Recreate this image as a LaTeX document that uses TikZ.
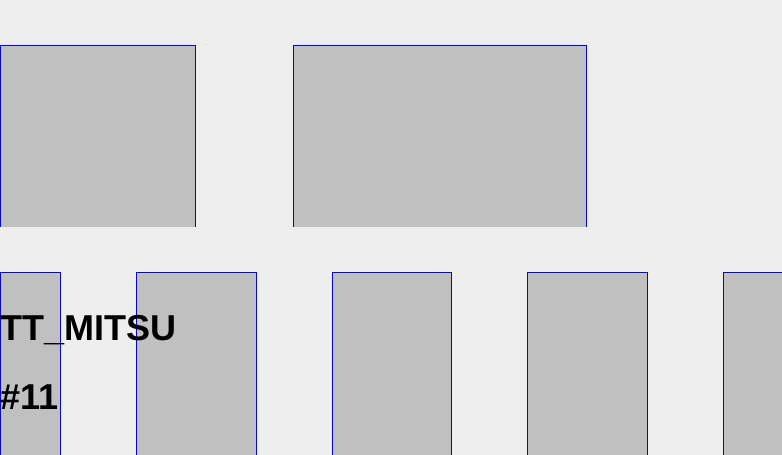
\documentclass[tikz,border=0pt]{standalone}
\usepackage{fontspec}
\setmainfont{Liberation Sans}
\definecolor{bg}{HTML}{EEEEEE}
\definecolor{boxfill}{HTML}{C0C0C0}
\begin{document}
\begin{tikzpicture}[x=1pt,y=1pt,
  boxfillstyle/.style={fill=boxfill},
  boxedge/.style={draw=blue,line width=1pt},
  label/.style={anchor=base west,inner sep=0pt,font=\bfseries\fontsize{36}{40}\selectfont}]
\useasboundingbox (0,0) rectangle (782,455);
\fill[bg] (0,0) rectangle (782,455);
% top row
\foreach \xa/\xb in {0.5/195.5, 293.5/586.5} {
  \fill[boxfillstyle] (\xa,228) rectangle (\xb,409.5);
  \draw[boxedge] (\xa,228) -- (\xa,409.5) -- (\xb,409.5) -- (\xb,228);
}
% bottom row
\foreach \xa/\xb in {0.5/60.5, 136.5/256.5, 332.5/451.5, 527.5/647.5, 723.5/843.5} {
  \fill[boxfillstyle] (\xa,-5) rectangle (\xb,182.5);
  \draw[boxedge] (\xa,-5) -- (\xa,182.5) -- (\xb,182.5) -- (\xb,-5);
}
\node[label] (name) at (0,114) {TT\_MITSU};
\node[label] (num) at (0,45) {\#11};
\end{tikzpicture}
\end{document}
